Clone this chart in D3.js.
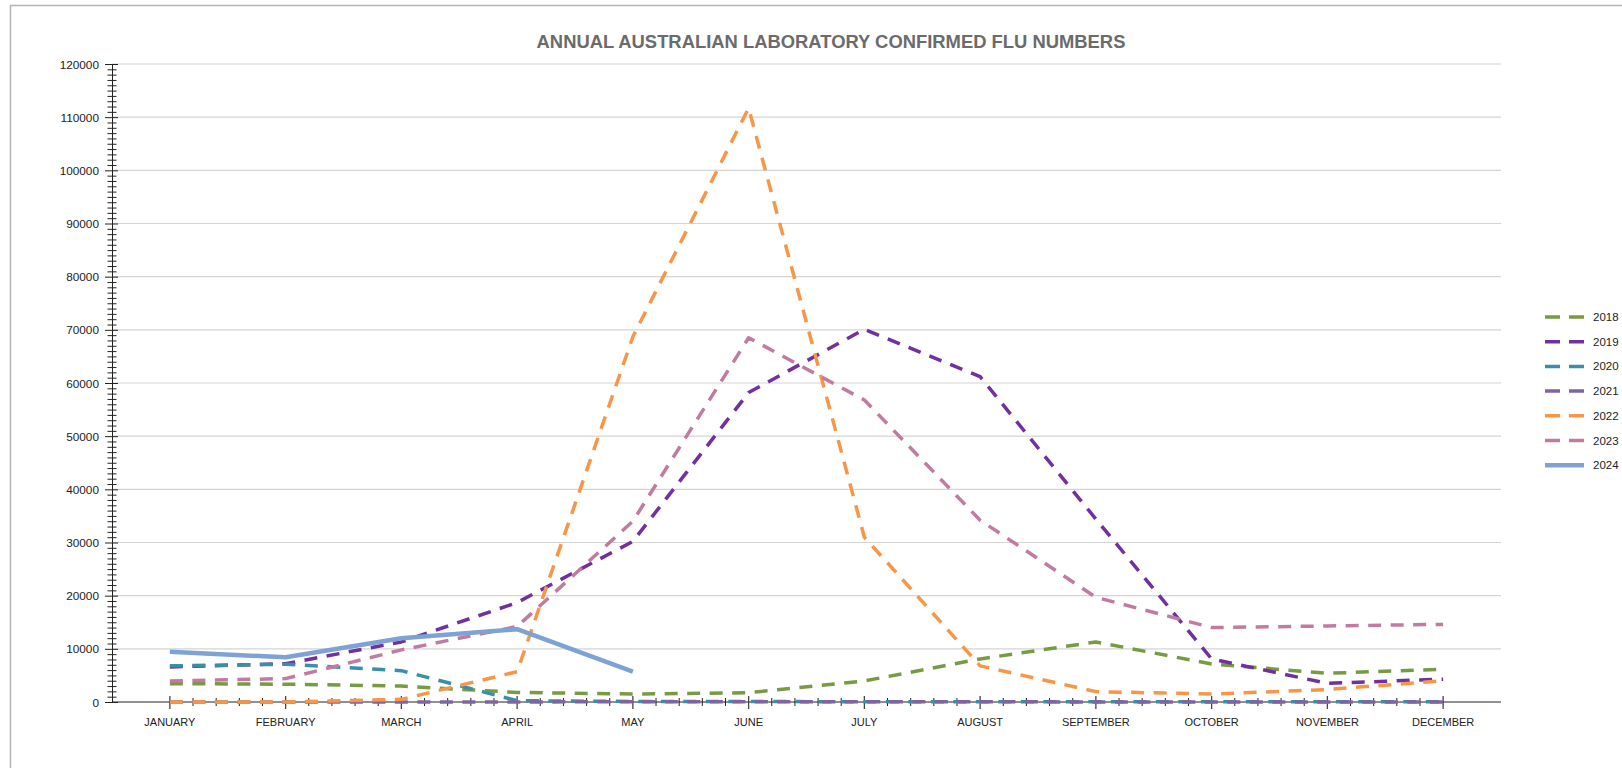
<!DOCTYPE html>
<html>
<head>
<meta charset="utf-8">
<script src="https://cdn.jsdelivr.net/npm/d3@7"></script>
<style>
	html, body { margin: 0; padding: 0; background: #fff; }
	svg { display: block; font-family: "Liberation Sans", Arial, sans-serif; }
</style>
</head>
<body>
<div id="chart"></div>
<script>
// === Data ===
const months = ['JANUARY', 'FEBRUARY', 'MARCH', 'APRIL', 'MAY', 'JUNE', 'JULY', 'AUGUST', 'SEPTEMBER', 'OCTOBER', 'NOVEMBER', 'DECEMBER'];
const years = ['2018', '2019', '2020', '2021', '2022', '2023', '2024'];

const flu2018 = [3450, 3350, 3000, 1800, 1500, 1750, 3950, 8100, 11300, 7150, 5400, 6150];
const flu2019 = [6600, 7200, 11300, 18700, 30200, 58200, 70100, 61200, 34400, 8100, 3500, 4300];
const flu2020 = [6800, 7100, 5900, 250, 100, 80, 60, 50, 40, 40, 30, 30];
const flu2021 = [10, 10, 10, 20, 30, 40, 40, 30, 20, 20, 10, 10];
const flu2022 = [0, 0, 500, 5700, 68700, 111700, 31000, 6800, 1950, 1500, 2350, 4000];
const flu2023 = [3950, 4400, 9800, 14200, 34000, 68500, 56800, 34200, 19700, 14000, 14300, 14600];
const flu2024 = [9450, 8400, 12000, 13700, 5700];

const seriesValues = [flu2018, flu2019, flu2020, flu2021, flu2022, flu2023, flu2024];
const seriesColors = ['#789a43', '#7030a0', '#3a8ea8', '#8064a2', '#f79646', '#c27ba0', '#7fa2d5'];
const seriesDashed = [true, true, true, true, true, true, false];

const yTicks = d3.range(0, 120001, 10000);
const yMinorTicks = d3.range(0, 120001, 1000).filter(v => v % 10000 !== 0);

// === Layout ===
const W = 1622, H = 768;
const plot = {left: 112, right: 1501, top: 64, bottom: 702};

const svg = d3.select('#chart').append('svg').attr('width', W).attr('height', H);

// chart area border
svg.append('rect')
	.attr('x', 10.5).attr('y', 5.5)
	.attr('width', 1700).attr('height', 900)
	.attr('fill', 'none')
	.attr('stroke', '#b4b4b4')
	.attr('stroke-width', 1.5);

const x = d3.scalePoint().domain(months).range([plot.left, plot.right]).padding(0.5);
const y = d3.scaleLinear().domain([0, 120000]).range([plot.bottom, plot.top]);

// Gridlines
svg.append('g').attr('class', 'grid')
	.selectAll('line').data(yTicks.filter(d => d > 0)).join('line')
	.attr('x1', plot.left).attr('x2', plot.right)
	.attr('y1', d => y(d)).attr('y2', d => y(d))
	.attr('stroke', '#d4d4d4').attr('stroke-width', 1.2);

// Title
svg.append('text')
	.attr('x', 831).attr('y', 47.5)
	.attr('text-anchor', 'middle')
	.style('font-size', '18.4px')
	.style('font-weight', 'bold')
	.style('fill', '#6b6b6b')
	.text('ANNUAL AUSTRALIAN LABORATORY CONFIRMED FLU NUMBERS');

// Y axis (minor then major)
const yMinorG = svg.append('g').attr('transform', `translate(${plot.left},0)`)
	.call(d3.axisLeft(y).tickValues(yMinorTicks).tickFormat('').tickSizeOuter(0));
yMinorG.select('.domain').remove();
yMinorG.selectAll('.tick line').attr('x1', -4.5).attr('x2', 4.5).attr('stroke', '#222');

const yAxisG = svg.append('g').attr('transform', `translate(${plot.left},0)`)
	.call(d3.axisLeft(y).tickValues(yTicks).tickFormat(d3.format('d')).tickSizeOuter(0));
yAxisG.select('.domain').attr('stroke', '#222');
yAxisG.selectAll('.tick line').attr('x1', -7).attr('x2', 6).attr('stroke', '#222');
yAxisG.selectAll('.tick text')
	.attr('x', -13).attr('dy', '0.34em')
	.style('font-size', '11.8px')
	.style('font-family', '"Liberation Sans", Arial, sans-serif')
	.style('fill', '#222');

// X axis
const step = x.step();
const xMinor = [];
months.slice(0, -1).forEach(m => {
	for (let k = 1; k < 5; k++) xMinor.push(x(m) + step * k / 5);
});
const xAxisG = svg.append('g').attr('transform', `translate(0,${plot.bottom})`);
xAxisG.append('line')
	.attr('x1', plot.left).attr('x2', plot.right)
	.attr('stroke', '#222');
xAxisG.selectAll('.minor').data(xMinor).join('line')
	.attr('class', 'minor')
	.attr('x1', d => d).attr('x2', d => d)
	.attr('y1', -4).attr('y2', 4)
	.attr('stroke', '#222');
xAxisG.selectAll('.major').data(months).join('line')
	.attr('class', 'major')
	.attr('x1', d => x(d)).attr('x2', d => x(d))
	.attr('y1', -6).attr('y2', 7)
	.attr('stroke', '#444').attr('stroke-width', 1.3);
xAxisG.selectAll('.label').data(months).join('text')
	.attr('class', 'label')
	.attr('x', d => x(d)).attr('y', 24)
	.attr('text-anchor', 'middle')
	.style('font-size', '11px')
	.style('fill', '#222')
	.text(d => d);

// Lines
const line = d3.line()
	.x((d, i) => x(months[i]))
	.y(d => y(d));

svg.append('g').attr('class', 'lines')
	.selectAll('path').data(seriesValues).join('path')
	.attr('d', d => line(d))
	.attr('fill', 'none')
	.attr('stroke', (d, i) => seriesColors[i])
	.attr('stroke-width', (d, i) => seriesDashed[i] ? 3.5 : 4.5)
	.attr('stroke-dasharray', (d, i) => seriesDashed[i] ? '13,9.5' : null)
	.attr('stroke-linejoin', 'round');

// Legend
const legend = svg.append('g').attr('class', 'legend')
	.attr('transform', 'translate(1545,317)');
const rows = legend.selectAll('g').data(years).join('g')
	.attr('transform', (d, i) => `translate(0,${i * 24.7})`);
rows.append('line')
	.attr('x1', 0).attr('x2', 39)
	.attr('stroke', (d, i) => seriesColors[i])
	.attr('stroke-width', (d, i) => seriesDashed[i] ? 3.5 : 4.5)
	.attr('stroke-dasharray', (d, i) => seriesDashed[i] ? '15,9' : null);
rows.append('text')
	.attr('x', 48).attr('dy', '0.35em')
	.style('font-size', '11.5px')
	.style('fill', '#222')
	.text(d => d);
</script>
</body>
</html>
